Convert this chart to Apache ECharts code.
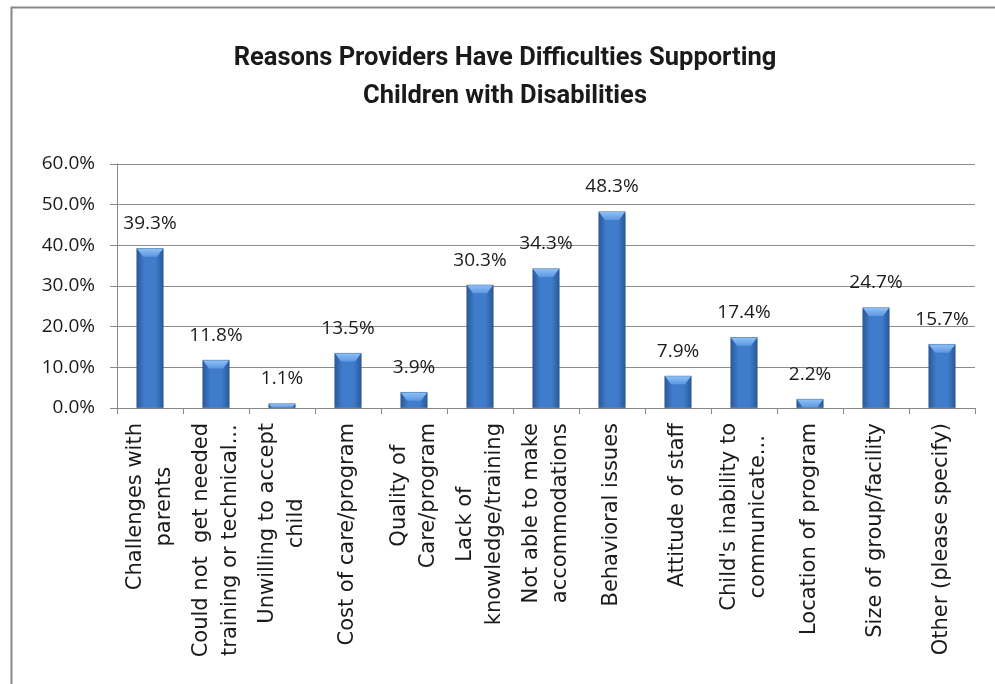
<!DOCTYPE html>
<html>
<head>
<meta charset="utf-8">
<script src="https://cdn.jsdelivr.net/npm/echarts@6/dist/echarts.min.js"></script>
<style>html,body{margin:0;padding:0;background:#fff;}#c{width:995px;height:684px;}</style>
</head>
<body>
<div id="c"></div>
<script>
const titleLines = ['Reasons Providers Have Difficulties Supporting', 'Children with Disabilities'];
const categories = [
  'Challenges with\nparents',
  'Could not  get needed\ntraining or technical...',
  'Unwilling to accept\nchild',
  'Cost of care/program',
  'Quality of\nCare/program',
  'Lack of\nknowledge/training',
  'Not able to make\naccommodations',
  'Behavioral issues',
  'Attitude of staff',
  "Child's inability to\ncommunicate...",
  'Location of program',
  'Size of group/facility',
  'Other (please specify)'
];
const values = [39.3, 11.8, 1.1, 13.5, 3.9, 30.3, 34.3, 48.3, 7.9, 17.4, 2.2, 24.7, 15.7];
const yTicks = { min: 0, max: 60, interval: 10 };

const LABEL_FONT = 'DejaVu Sans';
const NUM_FONT = 'Open Sans';
const BAR_W = 27;

const chart = echarts.init(document.getElementById('c'));
const barGrad = new echarts.graphic.LinearGradient(0, 0, 1, 0, [
  { offset: 0, color: '#2a5898' },
  { offset: 0.3, color: '#3f7dcc' },
  { offset: 0.7, color: '#3f7dcc' },
  { offset: 1, color: '#2a5898' }
]);
chart.setOption({
  animation: false,
  backgroundColor: '#fff',
  graphic: [{
    type: 'rect', left: 9, top: 5, silent: true,
    shape: { width: 1000, height: 700 },
    style: { fill: 'none', stroke: '#878787', lineWidth: 2 }
  }],
  title: {
    text: titleLines.join('\n'),
    left: 500, top: 35, textAlign: 'center',
    textStyle: { fontFamily: 'Roboto', fontWeight: 'bold', fontSize: 25.5, lineHeight: 38, color: '#1a1a1a' }
  },
  grid: { left: 117, right: 20, top: 164, bottom: 276, containLabel: false },
  xAxis: {
    type: 'category',
    data: categories,
    axisLine: { lineStyle: { color: '#888', width: 1 } },
    axisTick: { show: true, length: 6, lineStyle: { color: '#888' } },
    axisLabel: {
      rotate: 90, interval: 0, margin: 15,
      fontFamily: LABEL_FONT, fontSize: 21, lineHeight: 29, color: '#1a1a1a',
      formatter: function (v) { return v.split('\n').map(function (l) { return '{c|' + l + '}'; }).join('\n'); },
      rich: { c: { align: 'center', fontFamily: LABEL_FONT, fontSize: 21, lineHeight: 29, color: '#1a1a1a' } }
    }
  },
  yAxis: {
    type: 'value',
    min: yTicks.min, max: yTicks.max, interval: yTicks.interval,
    axisLine: { show: true, lineStyle: { color: '#888' } },
    axisTick: { show: true, length: 7, lineStyle: { color: '#888' } },
    splitLine: { lineStyle: { color: '#8c8c8c', width: 1 } },
    axisLabel: {
      margin: 22, fontFamily: NUM_FONT, fontSize: 19, color: '#1a1a1a',
      formatter: function (v) { return v.toFixed(1) + '%'; }
    }
  },
  series: [{
    type: 'bar',
    data: values,
    barWidth: BAR_W,
    itemStyle: { color: barGrad, borderColor: '#2a5590', borderWidth: 0.5 },
    label: {
      show: true, position: 'top', distance: 15,
      fontFamily: NUM_FONT, fontSize: 19, color: '#1a1a1a',
      formatter: function (p) { return p.value.toFixed(1) + '%'; }
    },
    z: 2
  }, {
    type: 'custom',
    data: values.map(function (v, i) { return [i, v]; }),
    silent: true,
    z: 3,
    renderItem: function (params, api) {
      const top = api.coord([api.value(0), api.value(1)]);
      const base = api.coord([api.value(0), 0]);
      const h = Math.min(8, (base[1] - top[1]) - 1);
      const half = BAR_W / 2 - 0.5;
      const x = top[0], y = top[1] + 0.5;
      const inset = Math.min(6, h * 0.75);
      return {
        type: 'polygon',
        shape: { points: [[x - half, y], [x + half, y], [x + half - inset, y + h], [x - half + inset, y + h]] },
        style: { fill: new echarts.graphic.LinearGradient(0, 0, 0, 1, [
          { offset: 0, color: '#8cc0f5' }, { offset: 1, color: '#5d97e0' }
        ]) }
      };
    }
  }]
});
</script>
</body>
</html>
